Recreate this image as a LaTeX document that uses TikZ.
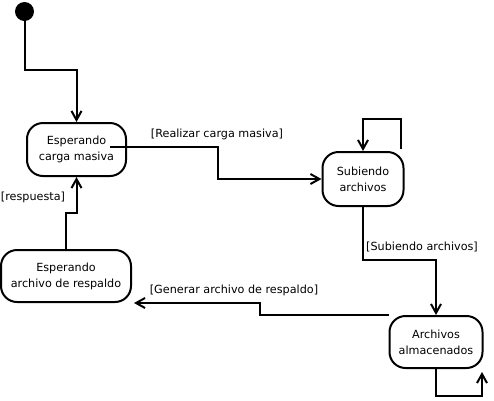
\documentclass[tikz,border=0pt]{standalone}
\usepackage{fontspec}
\setmainfont{DejaVu Sans}
\usetikzlibrary{arrows.meta,calc}
\begin{document}
\begin{tikzpicture}[x=1pt,y=-1pt,
  state/.style={draw,line width=2pt,fill=white,rounded corners=16pt,align=center,inner sep=0pt,font=\fontsize{11.2}{16}\selectfont},
  lbl/.style={inner sep=0pt,font=\fontsize{11.2}{13}\selectfont},
  arr/.style={line width=2pt,-{Straight Barb[length=9pt,width=10pt,line width=2pt]}}]
\useasboundingbox (0,0) rectangle (494,400);
\node[circle,fill=black,minimum size=19pt,inner sep=0pt] (init) at (24.5,11.5) {};
\node[state,minimum width=99pt,minimum height=53pt] (A) at (76.5,149.5) {Esperando\\carga masiva};
\node[state,minimum width=81pt,minimum height=54pt] (B) at (363,179) {Subiendo\\archivos};
\node[state,minimum width=93pt,minimum height=52pt] (C) at (436,342) {Archivos\\almacenados};
\node[state,minimum width=130pt,minimum height=52pt] (D) at (66,276) {Esperando\\archivo de respaldo};
\coordinate (k0) at (50,70);
\coordinate (k1) at (218,162);
\coordinate (b1) at (401,149);
\coordinate (b2) at (382,119);
\coordinate (k2) at (400,260);
\coordinate (k3) at (460,396);
\coordinate (c2) at (482,372);
\coordinate (k4) at (260,308);
\coordinate (k5) at (70,213);
\draw[arr] (init) |- (k0) -| (A.north);
\draw[arr] ($(A.center)+(33,-3)$) -| (k1) |- (B.west);
\draw[arr] (b1) |- (b2) -| (B.north);
\draw[arr] (B.south) |- (k2) -| (C.north);
\draw[arr] (C.south) |- (k3) -| (c2);
\draw[arr] (C.north west) -| (k4) |- ($(D.south east)+(2,0)$);
\draw[arr] (D.north) |- (k5) -| (A.south);
\node[lbl] (l1) at (217,134) {[Realizar carga masiva]};
\node[lbl] (l2) at (422,247) {[Subiendo archivos]};
\node[lbl] (l3) at (234,290) {[Generar archivo de respaldo]};
\node[lbl] (l4) at (33,197) {[respuesta]};
\end{tikzpicture}
\end{document}
